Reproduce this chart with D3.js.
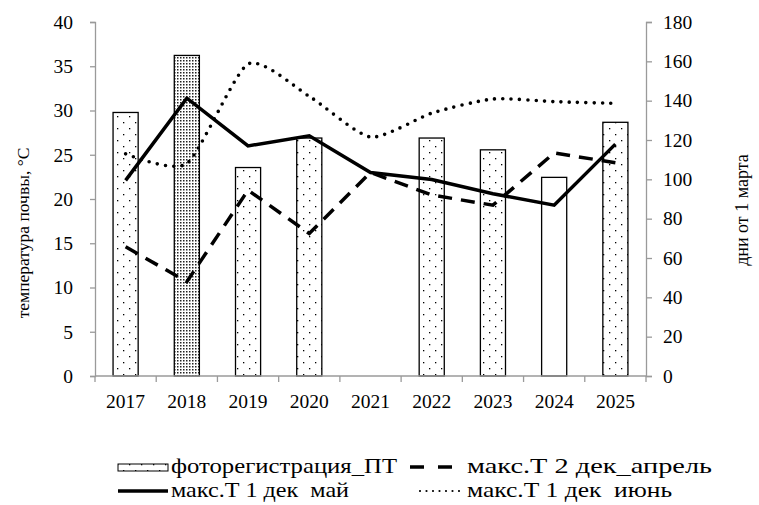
<!DOCTYPE html>
<html>
<head>
<meta charset="utf-8">
<script src="https://cdn.jsdelivr.net/npm/d3@7"></script>
<style>
  body { margin: 0; background: #fff; }
  svg text { font-family: "Liberation Serif", "Times New Roman", serif; fill: #000; }
</style>
</head>
<body>
<svg id="chart" width="759" height="505"></svg>
<script>
// data
const years = ["2017", "2018", "2019", "2020", "2021", "2022", "2023", "2024", "2025"]
const photoDays = [134, 163, 106, 121, null, 121, 115, 101, 129]   // bars, right axis
const barFill = ["dots", "dense", "dots", "dots", null, "dots", "dots", "none", "dots"]
const maxT_May = [22.1, 31.4, 26.0, 27.15, 23.0, 22.2, 20.6, 19.3, 26.2]
const maxT_April = [14.6, 10.65, 21.0, 16.1, 23.0, 20.45, 19.3, 25.2, 24.1]
const maxT_June = [25.1, 24.0, 35.25, 31.6, 27.0, 29.7, 31.3, 31.0, 30.8]
const leftTicks = [0, 5, 10, 15, 20, 25, 30, 35, 40]
const rightTicks = [0, 20, 40, 60, 80, 100, 120, 140, 160, 180]

const svg = d3.select("#chart")
const plot = { left: 95, right: 646, top: 22, bottom: 376 }
const axisColor = "#9a9a9a"

const x = d3.scaleBand().domain(years).range([plot.left, plot.right])
const yL = d3.scaleLinear().domain([0, 40]).range([plot.bottom, plot.top])
const yR = d3.scaleLinear().domain([0, 180]).range([plot.bottom, plot.top])

// fill patterns
const defs = svg.append("defs")
const sparse = defs.append("pattern").attr("id", "dots")
  .attr("patternUnits", "userSpaceOnUse").attr("width", 12).attr("height", 12)
sparse.append("rect").attr("width", 12).attr("height", 12).attr("fill", "#fff")
sparse.append("rect").attr("x", 3).attr("y", 2).attr("width", 1.3).attr("height", 1.3).attr("fill", "#000")
sparse.append("rect").attr("x", 9).attr("y", 8).attr("width", 1.3).attr("height", 1.3).attr("fill", "#000")

const dense = defs.append("pattern").attr("id", "dense")
  .attr("patternUnits", "userSpaceOnUse").attr("width", 3).attr("height", 3)
dense.append("rect").attr("width", 3).attr("height", 3).attr("fill", "#fff")
dense.append("rect").attr("x", 0).attr("y", 0).attr("width", 1.5).attr("height", 1.5).attr("fill", "#222")

const fillFor = f => f === "dots" ? "url(#dots)" : f === "dense" ? "url(#dense)" : "#fff"

// bars
const barW = x.bandwidth() * 0.41
svg.append("g").selectAll("rect")
  .data(years.map((y, i) => ({ year: y, days: photoDays[i], fill: barFill[i] })).filter(d => d.days != null))
  .join("rect")
  .attr("x", d => x(d.year) + (x.bandwidth() - barW) / 2)
  .attr("y", d => yR(d.days))
  .attr("width", barW)
  .attr("height", d => yR(0) - yR(d.days))
  .attr("fill", d => fillFor(d.fill))
  .attr("stroke", "#000")
  .attr("stroke-width", 1.3)

// axes
const gx = svg.append("g").attr("transform", `translate(0,${plot.bottom})`)
gx.append("line").attr("x1", plot.left).attr("x2", plot.right).attr("stroke", axisColor).attr("stroke-width", 1.3)
gx.selectAll(".tick-b")
  .data([...years.map(y => x(y)), plot.right])
  .join("line")
  .attr("x1", d => d).attr("x2", d => d)
  .attr("y1", 0).attr("y2", 6)
  .attr("stroke", axisColor).attr("stroke-width", 1.3)
gx.selectAll("text")
  .data(years)
  .join("text")
  .attr("x", d => x(d) + x.bandwidth() / 2)
  .attr("y", 32)
  .attr("text-anchor", "middle")
  .attr("font-size", "19.5px")
  .text(d => d)

const gl = svg.append("g").attr("transform", `translate(${plot.left},0)`)
  .call(d3.axisLeft(yL).tickValues(leftTicks).tickSize(5).tickPadding(17))
const gr = svg.append("g").attr("transform", `translate(${plot.right},0)`)
  .call(d3.axisRight(yR).tickValues(rightTicks).tickSize(6).tickPadding(11))
;[gl, gr].forEach(g => {
  g.select(".domain").attr("stroke", axisColor).attr("stroke-width", 1.3)
  g.selectAll(".tick line").attr("stroke", axisColor).attr("stroke-width", 1.3)
  g.selectAll(".tick text").attr("font-size", "19.5px").attr("fill", "#000")
})

// axis titles
svg.append("text")
  .attr("transform", `translate(29,233) rotate(-90)`)
  .attr("text-anchor", "middle")
  .attr("font-size", "17.5px")
  .text("температура почвы, °C")
svg.append("text")
  .attr("transform", `translate(748,210) rotate(-90)`)
  .attr("text-anchor", "middle")
  .attr("font-size", "18px")
  .text("дни от 1 марта")

// lines
const series = [
  { values: maxT_April, dash: "14,9", width: 3.5, cap: "butt", curve: d3.curveLinear },
  { values: maxT_June, dash: "0,8.3", width: 3.6, cap: "round", curve: d3.curveCardinal.tension(0.35) },
  { values: maxT_May, dash: null, width: 3.5, cap: "butt", curve: d3.curveLinear }
]
series.forEach(s => {
  const line = d3.line()
    .x((d, i) => x(years[i]) + x.bandwidth() / 2)
    .y(d => yL(d))
    .curve(s.curve)
  svg.append("path")
    .attr("d", line(s.values))
    .attr("fill", "none")
    .attr("stroke", "#000")
    .attr("stroke-width", s.width)
    .attr("stroke-linecap", s.cap)
    .attr("stroke-linejoin", "miter")
    .attr("stroke-dasharray", s.dash)
})

// legend
const legend = svg.append("g").attr("font-size", "22px")
const row1 = 467, row2 = 491
const legendText = (x0, y0, str, len) => legend.append("text")
  .attr("x", x0).attr("y", y0 + 6)
  .attr("xml:space", "preserve").style("white-space", "pre")
  .attr("textLength", len).attr("lengthAdjust", "spacingAndGlyphs")
  .text(str)
legend.append("rect").attr("x", 118).attr("y", row1 - 3).attr("width", 50).attr("height", 7)
  .attr("fill", "url(#dots)").attr("stroke", "#000").attr("stroke-width", 1)
legendText(171, row1, "фоторегистрация_ПТ", 226)
legend.append("line").attr("x1", 410).attr("x2", 452).attr("y1", row1).attr("y2", row1)
  .attr("stroke", "#000").attr("stroke-width", 3.5).attr("stroke-dasharray", "14,14")
legendText(467, row1, "макс.Т 2 дек_апрель", 245)
legend.append("line").attr("x1", 118).attr("x2", 168).attr("y1", row2).attr("y2", row2)
  .attr("stroke", "#000").attr("stroke-width", 3.5)
legendText(171, row2, "макс.Т 1 дек  май", 178)
legend.append("line").attr("x1", 420).attr("x2", 464).attr("y1", row2).attr("y2", row2)
  .attr("stroke", "#000").attr("stroke-width", 2.2).attr("stroke-linecap", "round").attr("stroke-dasharray", "0,6.5")
legendText(467, row2, "макс.Т 1 дек  июнь", 205)
</script>
</body>
</html>
